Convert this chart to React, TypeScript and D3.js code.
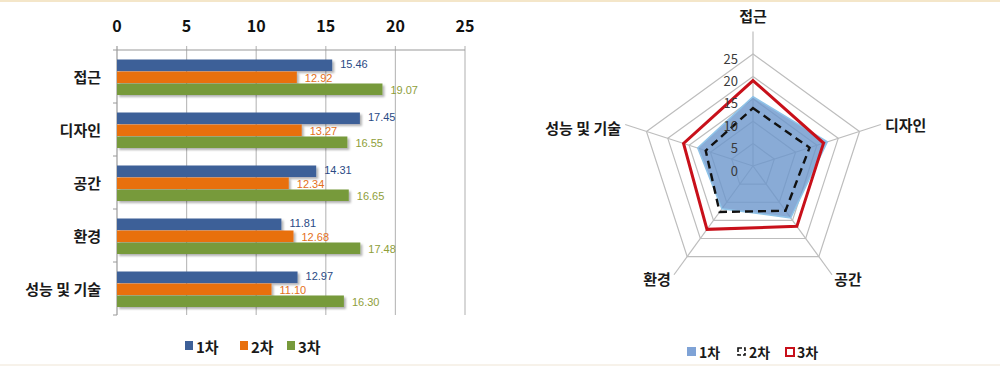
import React, { useEffect, useRef } from "react";
import * as d3 from "d3";

const categories = ["접근", "디자인", "공간", "환경", "성능 및 기술"];
const seriesNames = ["1차", "2차", "3차"];
const s1 = [15.46, 17.45, 14.31, 11.81, 12.97];
const s2 = [12.92, 13.27, 12.34, 12.68, 11.1];
const s3 = [19.07, 16.55, 16.65, 17.48, 16.3];
const xTicks = [0, 5, 10, 15, 20, 25];
const rTicks = [0, 5, 10, 15, 20, 25];

const FONT = "'Noto Sans CJK KR', 'Noto Sans', sans-serif";
const NUMFONT = "'Liberation Sans', 'DejaVu Sans', sans-serif";

export default function App() {
  const ref = useRef<SVGSVGElement | null>(null);

  useEffect(() => {
    const svg = d3.select(ref.current);
    svg.selectAll("*").remove();

    const defs = svg.append("defs");
    const f = defs.append("filter").attr("id", "sh").attr("x", "-5%").attr("y", "-30%").attr("width", "115%").attr("height", "190%");
    f.append("feDropShadow").attr("dx", 2).attr("dy", 2).attr("stdDeviation", 1.2).attr("flood-color", "#000").attr("flood-opacity", 0.3);

    // frame
    svg.append("rect").attr("x", 0).attr("y", 0).attr("width", 1000).attr("height", 2).attr("fill", "#F4E6C9");
    svg.append("rect").attr("x", 0).attr("y", 364).attr("width", 1000).attr("height", 2).attr("fill", "#F7F2EA");

    // ---------- Bar chart ----------
    const x = d3.scaleLinear().domain([0, 25]).range([117, 465]);
    const y = d3.scaleBand<string>().domain(categories).range([50, 315]).paddingInner(0);
    const inner = d3.scaleBand<number>().domain([0, 1, 2]).range([9.5, 45]).paddingInner(0.04);
    const barColors = ["#3D6098", "#E8700E", "#779A3B"];
    const labelColors = ["#2A4A84", "#E4701A", "#8E9E3A"];
    const labelDy = [-1, 1.2, 1];
    const series = [s1, s2, s3];

    const g = svg.append("g");
    xTicks.forEach((t) => {
      g.append("line").attr("x1", x(t)).attr("x2", x(t)).attr("y1", 46).attr("y2", 315)
        .attr("stroke", t === 0 ? "#9A9A9A" : "#BDBDBD").attr("stroke-width", 1.2);
      g.append("text").attr("x", x(t)).attr("y", 25).attr("text-anchor", "middle").attr("dominant-baseline", "central")
        .attr("font-family", FONT).attr("font-weight", 700).attr("font-size", 16).attr("fill", "#111").text(String(t));
    });
    g.append("line").attr("x1", x(0)).attr("x2", x(25)).attr("y1", 50).attr("y2", 50).attr("stroke", "#9A9A9A").attr("stroke-width", 1.2);
    [...categories.map((c) => y(c)!), 315].forEach((yy) => {
      g.append("line").attr("x1", x(0) - 4).attr("x2", x(0)).attr("y1", yy).attr("y2", yy).attr("stroke", "#9A9A9A");
    });

    categories.forEach((c, i) => {
      const y0 = y(c)!;
      g.append("text").attr("x", 101).attr("y", y0 + y.bandwidth() / 2).attr("text-anchor", "end").attr("dominant-baseline", "central")
        .attr("font-family", FONT).attr("font-weight", 700).attr("font-size", 15).attr("fill", "#1a1a1a").text(c);
      series.forEach((s, k) => {
        const by = y0 + inner(k)!;
        g.append("rect").attr("x", x(0)).attr("y", by).attr("width", x(s[i]) - x(0)).attr("height", inner.bandwidth())
          .attr("fill", barColors[k]).attr("filter", "url(#sh)");
        g.append("text").attr("x", x(s[i]) + 8).attr("y", by + inner.bandwidth() / 2 + labelDy[k]).attr("dominant-baseline", "central")
          .attr("font-family", NUMFONT).attr("font-size", 11).attr("fill", labelColors[k]).text(s[i].toFixed(2));
      });
    });

    const legX = [185, 240, 287];
    seriesNames.forEach((n, k) => {
      g.append("rect").attr("x", legX[k]).attr("y", 341).attr("width", 8).attr("height", 9).attr("fill", barColors[k]);
      g.append("text").attr("x", legX[k] + 11).attr("y", 346).attr("dominant-baseline", "central")
        .attr("font-family", FONT).attr("font-weight", 700).attr("font-size", 15).attr("fill", "#1a1a1a").text(n);
    });

    // ---------- Radar chart ----------
    const cx = 753, cy = 166, R = 112;
    const r = d3.scaleLinear().domain([0, 25]).range([0, R]);
    const ang = (i: number) => (i * 2 * Math.PI) / categories.length;
    const pt = (i: number, v: number): [number, number] => [cx + r(v) * Math.sin(ang(i)), cy - r(v) * Math.cos(ang(i))];
    const rg = svg.append("g");

    rTicks.filter((t) => t > 0).forEach((t) => {
      const pts = categories.map((_, i) => pt(i, t));
      rg.append("path").attr("d", d3.line()(pts)! + "Z").attr("fill", "none").attr("stroke", "#BDBDBD").attr("stroke-width", 1.2);
    });
    categories.forEach((_, i) => {
      const [ex, ey] = pt(i, 25 * 1.2);
      rg.append("line").attr("x1", cx).attr("y1", cy).attr("x2", ex).attr("y2", ey).attr("stroke", "#BDBDBD").attr("stroke-width", 1.2);
    });

    const lineClosed = (vals: number[]) => d3.line()(vals.map((v, i) => pt(i, v)))! + "Z";
    rg.append("path").attr("d", lineClosed(s1)).attr("fill", "#6C96CC").attr("fill-opacity", 0.8)
      .attr("stroke", "#8FC3E8").attr("stroke-width", 1.5);
    rg.append("path").attr("d", lineClosed(s2)).attr("fill", "none").attr("stroke", "#111")
      .attr("stroke-width", 2.4).attr("stroke-dasharray", "8,5");
    rg.append("path").attr("d", lineClosed(s3)).attr("fill", "none").attr("stroke", "#C8101A").attr("stroke-width", 3);

    rTicks.forEach((t) => {
      rg.append("text").attr("x", cx - 15).attr("y", cy - r(t) + 4).attr("text-anchor", "end").attr("dominant-baseline", "central")
        .attr("font-family", FONT).attr("font-size", 13).attr("fill", "#3a3a3a").text(String(t));
    });

    const labelPos: [number, number, string][] = [
      [753, 15, "middle"],
      [885, 124, "start"],
      [848, 278, "middle"],
      [657, 278, "middle"],
      [621, 127, "end"],
    ];
    categories.forEach((c, i) => {
      const [lx, ly, anchor] = labelPos[i];
      rg.append("text").attr("x", lx).attr("y", ly).attr("text-anchor", anchor).attr("dominant-baseline", "central")
        .attr("font-family", FONT).attr("font-weight", 700).attr("font-size", 15).attr("fill", "#1a1a1a").text(c);
    });

    const rl = [687, 737, 785];
    rg.append("rect").attr("x", rl[0]).attr("y", 347).attr("width", 9).attr("height", 9).attr("fill", "#7FA3D6");
    rg.append("rect").attr("x", rl[1] + 1).attr("y", 348).attr("width", 7).attr("height", 7).attr("fill", "none")
      .attr("stroke", "#111").attr("stroke-width", 1.6).attr("stroke-dasharray", "4,2");
    rg.append("rect").attr("x", rl[2] + 1).attr("y", 348).attr("width", 8).attr("height", 8).attr("fill", "none")
      .attr("stroke", "#C8101A").attr("stroke-width", 2);
    seriesNames.forEach((n, k) => {
      rg.append("text").attr("x", rl[k] + 12).attr("y", 352).attr("dominant-baseline", "central")
        .attr("font-family", FONT).attr("font-weight", 700).attr("font-size", 14).attr("fill", "#1a1a1a").text(n);
    });
  }, []);

  return (
    <svg ref={ref} width={1000} height={366} style={{ position: "absolute", left: 0, top: 0, background: "#fff" }} />
  );
}
